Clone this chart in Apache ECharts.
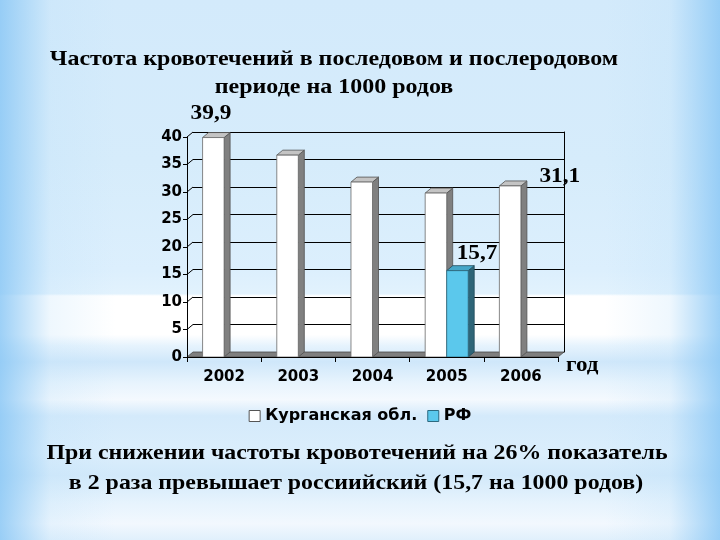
<!DOCTYPE html>
<html>
<head>
<meta charset="utf-8">
<script src="https://cdn.jsdelivr.net/npm/echarts@6/dist/echarts.min.js"></script>
<style>
html,body{margin:0;padding:0;width:720px;height:540px;overflow:hidden;}
body{
background:
 linear-gradient(to right, rgba(140,200,245,0.85) 0%, rgba(190,225,250,0.25) 7%, rgba(200,230,250,0) 16%, rgba(200,230,250,0) 84%, rgba(190,225,250,0.25) 93%, rgba(140,200,245,0.85) 100%),
 linear-gradient(to bottom, #d3eafb 0%, #d6ecfb 30%, #dceffd 50%, #e2f2fd 54.4%, #ffffff 54.8%, #ffffff 62%, #e6f3fd 64%, #cfe7fa 67%, #e8f4fd 71%, #f4f9fe 74%, #d4eafb 77%, #dbeefc 84%, #d2e9fa 88%, #e6f3fd 93%, #f2f8fe 97%, #e0f0fc 100%);
}
#c{width:720px;height:540px;}
</style>
</head>
<body>
<div id="c"></div>
<script>
const categories = ['2002', '2003', '2004', '2005', '2006'];
const kurganValues = [39.9, 36.7, 31.8, 29.8, 31.1];
const rfValues = [null, null, null, 15.7, null];
const yTicks = [0, 5, 10, 15, 20, 25, 30, 35, 40];
const seriesNames = ['Курганская обл.', 'РФ'];
const titleLines = ['Частота кровотечений в последовом и послеродовом', 'периоде на 1000 родов'];
const noteLines = ['При снижении частоты кровотечений на 26% показатель', 'в 2 раза превышает россиийский (15,7 на 1000 родов)'];
const axisName = 'год';

// 3D depth (style)
const DX = 6, DY = -5;
const SERIF = '"Liberation Serif","Times New Roman",serif';
const SANS = '"DejaVu Sans",Verdana,sans-serif';

// label placement per series/category (style only)
const kurganLabelOffsets = {0: [-12, -24], 4: [40, -10]};
const rfLabelOffsets = {3: [10, -17]};

function fmt(v) { return String(v).replace('.', ','); }

function makeBarRender(seriesIdx, colors, labelOffsets) {
  return function (params, api) {
    const cat = api.value(0), v = api.value(1);
    if (v == null || isNaN(v)) return;
    const base = api.coord([cat, 0]);
    const top = api.coord([cat, v]);
    const band = api.size([1, 0])[0];
    const w = band * 0.29;
    const x0 = seriesIdx === 0 ? base[0] - w : base[0];
    const x1 = x0 + w;
    const yT = top[1], yB = base[1];
    const children = [
      {type: 'polygon', shape: {points: [[x1, yT], [x1 + DX, yT + DY], [x1 + DX, yB + DY], [x1, yB]]},
       style: {fill: colors.side, stroke: colors.edge, lineWidth: 0.8}},
      {type: 'polygon', shape: {points: [[x0, yT], [x0 + DX, yT + DY], [x1 + DX, yT + DY], [x1, yT]]},
       style: {fill: colors.top, stroke: colors.edge, lineWidth: 0.8}},
      {type: 'rect', shape: {x: x0, y: yT, width: w, height: yB - yT},
       style: {fill: colors.front, stroke: colors.frontEdge, lineWidth: 0.8}}
    ];
    const off = labelOffsets[cat];
    if (off) {
      children.push({type: 'text', x: x0 + off[0], y: yT + off[1], scaleX: 1.06,
        style: {text: fmt(v), font: 'bold 22px ' + SERIF, fill: '#000', textAlign: 'left', textVerticalAlign: 'middle'}});
    }
    return {type: 'group', children: children};
  };
}

const chart = echarts.init(document.getElementById('c'), null, {renderer: 'canvas'});

const option = {
  backgroundColor: 'transparent',
  animation: false,
  graphic: [
    {type: 'text', x: 334, y: 59, z: 10, scaleX: 1.09,
     style: {text: titleLines[0], font: 'bold 22px ' + SERIF, fill: '#000', textAlign: 'center', textVerticalAlign: 'middle'}},
    {type: 'text', x: 334, y: 87, z: 10, scaleX: 1.09,
     style: {text: titleLines[1], font: 'bold 22px ' + SERIF, fill: '#000', textAlign: 'center', textVerticalAlign: 'middle'}},
    {type: 'text', x: 357, y: 453, z: 10, scaleX: 1.085,
     style: {text: noteLines[0], font: 'bold 22px ' + SERIF, fill: '#000', textAlign: 'center', textVerticalAlign: 'middle'}},
    {type: 'text', x: 356, y: 483, z: 10, scaleX: 1.085,
     style: {text: noteLines[1], font: 'bold 22px ' + SERIF, fill: '#000', textAlign: 'center', textVerticalAlign: 'middle'}},
    {type: 'text', x: 566, y: 365, z: 10, scaleX: 1.05,
     style: {text: axisName, font: 'bold 22px ' + SERIF, fill: '#000', textAlign: 'left', textVerticalAlign: 'middle'}}
  ],
  legend: {
    data: [
      {name: seriesNames[0], itemStyle: {color: '#ffffff', borderColor: '#555', borderWidth: 1}},
      {name: seriesNames[1], itemStyle: {color: '#5bc8ec', borderColor: '#2d6a80', borderWidth: 1}}
    ],
    left: 'center', top: 403, icon: 'rect', itemWidth: 11, itemHeight: 11, itemGap: 10,
    textStyle: {fontFamily: SANS, fontWeight: 'bold', fontSize: 16, color: '#000', padding: [0, 0, 0, 0]}
  },
  grid: [
    {left: 187, right: 162, top: 137, bottom: 183},
    {left: 193, right: 156, top: 132, bottom: 188}
  ],
  xAxis: [
    {type: 'category', gridIndex: 0, data: categories, z: 5,
     axisLine: {show: true, lineStyle: {color: '#000', width: 1}},
     axisTick: {show: true, length: 5, lineStyle: {color: '#000'}},
     axisLabel: {fontFamily: SANS, fontWeight: 'bold', fontSize: 15, color: '#000', margin: 13},
     splitLine: {show: false}},
    {type: 'category', gridIndex: 1, data: categories, show: false}
  ],
  yAxis: [
    {type: 'value', gridIndex: 0, min: 0, max: 40, interval: 5, z: 5,
     axisLine: {show: true, lineStyle: {color: '#000', width: 1}},
     axisTick: {show: true, length: 4, lineStyle: {color: '#000'}},
     axisLabel: {fontFamily: SANS, fontWeight: 'bold', fontSize: 15, color: '#000', margin: 5},
     splitLine: {show: false}},
    {type: 'value', gridIndex: 1, min: 0, max: 40, interval: 5, position: 'right',
     axisLine: {show: true, lineStyle: {color: '#000', width: 1}},
     axisTick: {show: false}, axisLabel: {show: false},
     splitLine: {show: true, lineStyle: {color: '#000', width: 1}}}
  ],
  series: [
    {
      type: 'custom', name: 'floor', xAxisIndex: 0, yAxisIndex: 0, z: 1, silent: true,
      data: [[0, 0]],
      renderItem: function (params, api) {
        const cs = params.coordSys;
        const x = cs.x, y = cs.y + cs.height, w = cs.width;
        const children = [
          {type: 'polygon', shape: {points: [[x, y], [x + w, y], [x + w + DX, y + DY], [x + DX, y + DY]]},
           style: {fill: '#7f7f7f', stroke: '#4a4a4a', lineWidth: 0.8}}
        ];
        yTicks.forEach(function (t) {
          if (t === 0) return;
          const p = api.coord([0, t]);
          children.push({type: 'line', shape: {x1: x, y1: p[1], x2: x + DX, y2: p[1] + DY},
            style: {stroke: '#000', lineWidth: 1}});
        });
        return {type: 'group', children: children};
      }
    },
    {
      type: 'custom', name: seriesNames[0], xAxisIndex: 0, yAxisIndex: 0, z: 2,
      itemStyle: {color: '#ffffff'},
      encode: {x: 0, y: 1},
      data: kurganValues.map(function (v, i) { return [i, v]; }).filter(function (d) { return d[1] != null; }),
      renderItem: makeBarRender(0, {front: '#ffffff', frontEdge: '#6a6a6a', side: '#808080', top: '#c4c4c4', edge: '#505050'}, kurganLabelOffsets)
    },
    {
      type: 'custom', name: seriesNames[1], xAxisIndex: 0, yAxisIndex: 0, z: 3,
      itemStyle: {color: '#5bc8ec'},
      encode: {x: 0, y: 1},
      data: rfValues.map(function (v, i) { return [i, v]; }).filter(function (d) { return d[1] != null; }),
      renderItem: makeBarRender(1, {front: '#5bc8ec', frontEdge: '#2d6a80', side: '#2e6578', top: '#45a6c8', edge: '#1f4a5a'}, rfLabelOffsets)
    }
  ]
};
chart.setOption(option);
</script>
</body>
</html>
